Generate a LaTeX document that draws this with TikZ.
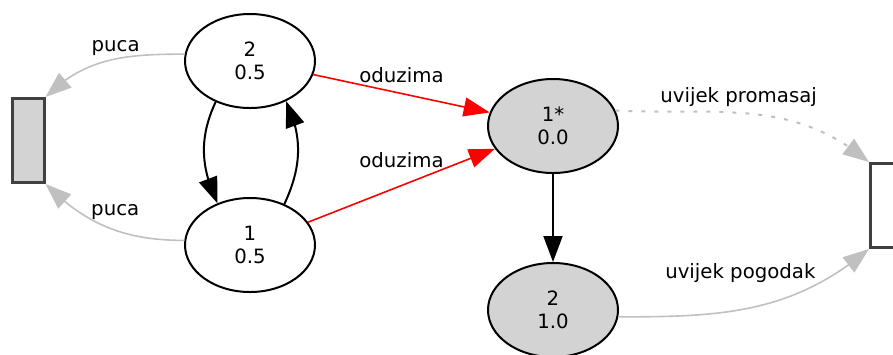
\documentclass[tikz,border=0pt]{standalone}
\usepackage{fontspec}
\setmainfont{DejaVu Sans}
\usetikzlibrary{shapes.geometric,arrows.meta,bending}
\definecolor{stategrey}{RGB}{211,211,211}
\definecolor{edgegrey}{RGB}{192,192,192}
\definecolor{boxgrey}{RGB}{64,64,64}

\begin{document}
\begin{tikzpicture}[x=0.5bp,y=-0.5bp,
    every node/.style={font=\fontsize{9.9}{11.5}\selectfont},
    state/.style={ellipse,draw,line width=1bp,minimum width=65bp,
                  minimum height=47bp,inner sep=0pt,align=center},
    taken/.style={state,fill=stategrey},
    sink/.style={rectangle,draw=boxgrey,line width=1.5bp,minimum width=15.5bp,
                 minimum height=42bp,inner sep=0pt},
    tip/.style={-{Triangle[length=13bp,width=9.5bp]}},
    move/.style={tip,line width=1bp},
    steal/.style={tip,red,line width=0.8bp},
    shot/.style={tip,edgegrey,line width=0.8bp}]
  \clip (0,0) rectangle (893,354);
  % duel states: shooter and probability
  \node[state] (s2) at (250,61) {2\\0.5};
  \node[state] (s1) at (250,245) {1\\0.5};
  \node[taken] (t1) at (553,126) {1*\\0.0};
  \node[taken] (t2) at (553,310) {2\\1.0};
  \node[sink,fill=stategrey] (endL) at (28.5,140.5) {};
  \node[sink,fill=white] (endR) at (886,205.5) {};
  \draw[shot] (s2.174) to[out=180,in=45]
      node[pos=0.45,yshift=5.5bp,text=black] {puca} (endL.north east);
  \draw[shot] (s1.176) to[out=180,in=-45]
      node[pos=0.45,yshift=9bp,text=black] {puca} (endL.south east);
  \draw[move] (s2.-130) to[out=-115,in=115] (s1.128);
  \draw[move] (s1.50) to[out=65,in=-65] (s2.-48);
  \draw[steal] (s2) -- node[midway,yshift=9.3bp,text=black] {oduzima} (t1);
  \draw[steal] (s1) -- node[midway,yshift=12.8bp,text=black] {oduzima} (t1);
  \draw[move] (t1) -- (t2);
  \draw[shot,line width=1bp,dash pattern=on 2bp off 4.5bp] (t1.14) to[out=-3,in=140]
      node[pos=0.45,yshift=8bp,text=black] {uvijek promasaj} (endR.north west);
  \draw[shot] (t2.-6) to[out=0,in=220]
      node[pos=0.45,yshift=18.5bp,text=black] {uvijek pogodak} (endR.south west);
\end{tikzpicture}
\end{document}
